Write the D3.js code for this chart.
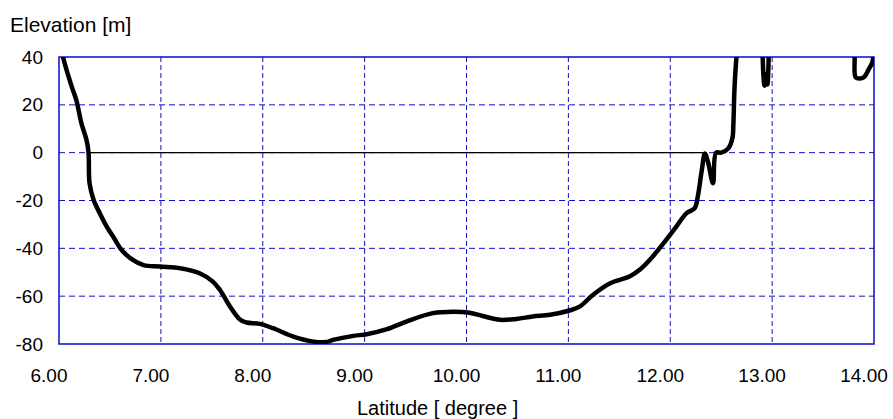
<!DOCTYPE html>
<html>
<head>
<meta charset="utf-8">
<script src="https://cdn.jsdelivr.net/npm/d3@7"></script>
<style>
  html, body { margin: 0; padding: 0; background: #fff; }
  svg { display: block; }
  text { font-family: "Liberation Sans", Arial, sans-serif; fill: #000; }
</style>
</head>
<body>
<svg id="chart" width="893" height="419"></svg>
<script>
// ---------- data ----------
const xTicks = [6, 7, 8, 9, 10, 11, 12, 13, 14];
const xTickLabels = ["6.00", "7.00", "8.00", "9.00", "10.00", "11.00", "12.00", "13.00", "14.00"];
const yTicks = [40, 20, 0, -20, -40, -60, -80];
const yTickLabels = ["40", "20", "0", "-20", "-40", "-60", "-80"];

// main bottom profile (latitude, elevation)
const profileLat = [6.03, 6.04, 6.125, 6.17, 6.22, 6.27, 6.29, 6.30, 6.34, 6.40, 6.47, 6.53, 6.615, 6.70, 6.83, 6.99, 7.19, 7.38, 7.51, 7.58, 7.68, 7.78, 7.84, 7.97, 8.10, 8.30, 8.50, 8.62, 8.69, 8.89, 9.02, 9.22, 9.41, 9.67, 9.87, 10.03, 10.16, 10.33, 10.49, 10.65, 10.82, 11.01, 11.11, 11.24, 11.41, 11.60, 11.70, 11.80, 11.96, 12.06, 12.16, 12.24, 12.27, 12.31, 12.34, 12.37, 12.42, 12.45, 12.50, 12.57, 12.61, 12.62, 12.63, 12.65, 12.66];
const profileElev = [43, 40, 27.6, 22, 12.3, 5.3, 0, -12.8, -19.8, -25.3, -31, -35, -40.7, -44.1, -47, -47.6, -48.3, -50.4, -53.9, -57.4, -64.4, -69.9, -71, -71.6, -73.4, -76.9, -79, -79.2, -78.3, -76.6, -75.9, -73.8, -70.6, -67.1, -66.5, -66.9, -68.3, -69.9, -69.5, -68.5, -67.8, -66, -64.4, -59.5, -54.6, -51.8, -49, -44.8, -36.5, -30.9, -25.3, -23.2, -18.4, -7.2, -0.3, -3.8, -12.8, 0, 0, 1.8, 6, 12.3, 26.2, 40, 44];

// island spike near 12.9
const spikeLat = [12.905, 12.915, 12.925, 12.94, 12.955, 12.962, 12.968];
const spikeElev = [44, 32, 28, 33, 28.5, 34, 44];

// land profile near 13.9
const eastLat = [13.805, 13.81, 13.82, 13.86, 13.90, 13.95, 13.985, 13.995];
const eastElev = [44, 40, 31.5, 31, 31.5, 35, 38, 44];

// sea surface line (elevation 0) between shore crossings
const seaLat = [6.29, 12.345];

// ---------- layout ----------
const svg = d3.select("#chart");
const M = { left: 59, right: 874, top: 57, bottom: 344 };

const x = d3.scaleLinear().domain([6, 14]).range([M.left, M.right]);
const y = d3.scaleLinear().domain([-80, 40]).range([M.bottom, M.top]);

const gridColor = "#1010c8";

// clip
svg.append("defs").append("clipPath").attr("id", "clip")
  .append("rect").attr("x", M.left).attr("y", M.top)
  .attr("width", M.right - M.left).attr("height", M.bottom - M.top);

// horizontal grid
svg.append("g").selectAll("line").data(yTicks.filter(d => d !== 40 && d !== -80)).join("line")
  .attr("x1", M.left).attr("x2", M.right)
  .attr("y1", d => y(d)).attr("y2", d => y(d))
  .attr("stroke", gridColor).attr("stroke-width", 1)
  .attr("stroke-dasharray", "6,4");

// vertical grid
svg.append("g").selectAll("line").data(xTicks.filter(d => d !== 6 && d !== 14)).join("line")
  .attr("x1", d => x(d)).attr("x2", d => x(d))
  .attr("y1", M.top).attr("y2", M.bottom)
  .attr("stroke", gridColor).attr("stroke-width", 1)
  .attr("stroke-dasharray", "5,3");

// sea level line
svg.append("line")
  .attr("x1", x(seaLat[0])).attr("x2", x(seaLat[1]))
  .attr("y1", y(0)).attr("y2", y(0))
  .attr("stroke", "#000").attr("stroke-width", 1.3);

// frame
svg.append("rect")
  .attr("x", M.left).attr("y", M.top)
  .attr("width", M.right - M.left).attr("height", M.bottom - M.top)
  .attr("fill", "none").attr("stroke", "#0a0ad0").attr("stroke-width", 1.5);

// profile lines
const line = d3.line().x(d => x(d[0])).y(d => y(d[1])).curve(d3.curveCatmullRom.alpha(0.5));
const segs = [
  d3.zip(profileLat, profileElev),
  d3.zip(spikeLat, spikeElev),
  d3.zip(eastLat, eastElev)
];
svg.append("g").attr("clip-path", "url(#clip)")
  .selectAll("path").data(segs).join("path")
  .attr("d", line)
  .attr("fill", "none").attr("stroke", "#000")
  .attr("stroke-width", 4.5)
  .attr("stroke-linejoin", "round").attr("stroke-linecap", "round");

// y tick labels
svg.append("g").selectAll("text").data(yTicks).join("text")
  .attr("x", 43).attr("y", d => y(d))
  .attr("text-anchor", "end").attr("dominant-baseline", "central")
  .style("font-size", "19px")
  .text((d, i) => yTickLabels[i]);

// x tick labels
svg.append("g").selectAll("text").data(xTicks).join("text")
  .attr("x", d => x(d) - 10).attr("y", 382)
  .attr("text-anchor", "middle")
  .style("font-size", "19px")
  .text((d, i) => xTickLabels[i]);

// axis titles
svg.append("text").attr("x", 10).attr("y", 32)
  .style("font-size", "21px").text("Elevation [m]");
svg.append("text").attr("x", 357).attr("y", 415)
  .style("font-size", "20px").text("Latitude [ degree ]");
</script>
</body>
</html>
